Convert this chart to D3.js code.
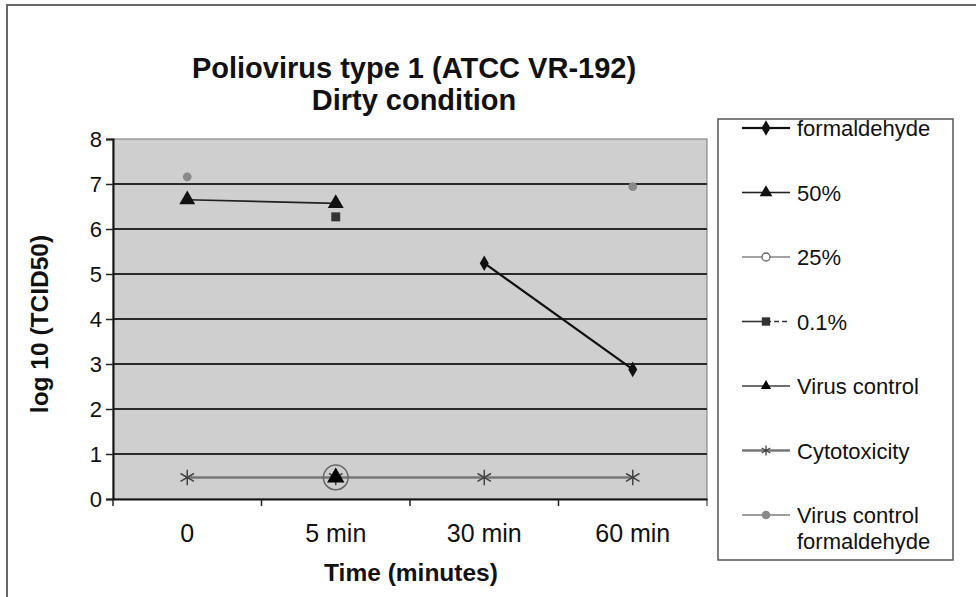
<!DOCTYPE html>
<html>
<head>
<meta charset="utf-8">
<script src="https://cdn.jsdelivr.net/npm/d3@7"></script>
<style>
  body { margin: 0; background: #fff; }
  svg { font-family: "Liberation Sans", Arial, sans-serif; }
</style>
</head>
<body>
<div id="chart"></div>
<script>
const width = 976;
const height = 597;
const margin = {top: 139, right: 269, bottom: 98, left: 113};

// data
const categories = ["0", "5 min", "30 min", "60 min"];
const yTicks = [0, 1, 2, 3, 4, 5, 6, 7, 8];
const formaldehyde = [null, null, 5.24, 2.88];
const pct50 = [6.65, 6.57, null, null];
const pct25 = [null, 0.48, null, null];
const pct01 = [null, 6.27, null, null];
const virusControl = [null, 0.48, null, null];
const cytotoxicity = [0.48, 0.48, 0.48, 0.48];
const virusControlForm = [7.16, null, null, 6.94];

const svg = d3.select("#chart").append("svg")
  .attr("width", width)
  .attr("height", height);

// outer frame (top + left only, rest is cut off in the scan)
svg.append("path")
  .attr("d", `M7,${height} L7,5 L${width},5`)
  .attr("fill", "none")
  .attr("stroke", "#666")
  .attr("stroke-width", 2);

const x = d3.scaleBand().domain(categories).range([margin.left, width - margin.right]);
const y = d3.scaleLinear().domain([0, 8]).range([height - margin.bottom, margin.top]);
const xc = c => x(c) + x.bandwidth() / 2;

// plot background
svg.append("rect")
  .attr("x", margin.left)
  .attr("y", margin.top)
  .attr("width", width - margin.right - margin.left)
  .attr("height", height - margin.bottom - margin.top)
  .attr("fill", "#cfcfcf")
  .attr("stroke", "#777")
  .attr("stroke-width", 1);

// gridlines
svg.append("g").selectAll("line")
  .data(yTicks.filter(t => t > 0 && t < 8))
  .join("line")
  .attr("x1", margin.left)
  .attr("x2", width - margin.right)
  .attr("y1", d => y(d))
  .attr("y2", d => y(d))
  .attr("stroke", "#2a2a2a")
  .attr("stroke-width", 1.8);

// axes
const yAxis = svg.append("g")
  .attr("transform", `translate(${margin.left},0)`)
  .call(d3.axisLeft(y).tickValues(yTicks).tickSize(7).tickPadding(4).tickFormat(d3.format("d")));
const xAxis = svg.append("g")
  .attr("transform", `translate(0,${height - margin.bottom})`)
  .call(d3.axisBottom(x).tickSize(0).tickPadding(25));
xAxis.selectAll(".tick").append("line")
  .attr("x1", -x.bandwidth() / 2).attr("x2", -x.bandwidth() / 2)
  .attr("y1", 0).attr("y2", 7).attr("stroke", "#222");
xAxis.append("line")
  .attr("x1", width - margin.right).attr("x2", width - margin.right)
  .attr("y1", 0).attr("y2", 7).attr("stroke", "#222");
[yAxis, xAxis].forEach(a => {
  a.select(".domain").attr("stroke", "#111").attr("stroke-width", 2);
  a.selectAll(".tick line").attr("stroke", "#222").attr("stroke-width", 1.5);
  a.selectAll("text").attr("fill", "#111").style("font-family", "'Liberation Sans', Arial, sans-serif");
});
yAxis.selectAll("text").style("font-size", "22px");
xAxis.selectAll("text").style("font-size", "25px");

// titles
const titleX = 414;
svg.append("text")
  .attr("x", titleX).attr("y", 78)
  .attr("text-anchor", "middle")
  .style("font-size", "29px").style("font-weight", "bold")
  .attr("fill", "#111")
  .text("Poliovirus type 1 (ATCC VR-192)");
svg.append("text")
  .attr("x", titleX).attr("y", 110)
  .attr("text-anchor", "middle")
  .style("font-size", "29px").style("font-weight", "bold")
  .attr("fill", "#111")
  .text("Dirty condition");
svg.append("text")
  .attr("x", 411)
  .attr("y", 581)
  .attr("text-anchor", "middle")
  .style("font-size", "24.5px").style("font-weight", "bold")
  .attr("fill", "#111")
  .text("Time (minutes)");
svg.append("text")
  .attr("transform", `translate(48,324) rotate(-90)`)
  .attr("text-anchor", "middle")
  .style("font-size", "24.5px").style("font-weight", "bold")
  .attr("fill", "#111")
  .text("log 10 (TCID50)");

// series definitions
const series = [
  {name: "formaldehyde", values: formaldehyde, color: "#111", width: 2.2, symbol: d3.symbolDiamond, size: 70, fill: "#111", dash: null},
  {name: "50%", values: pct50, color: "#222", width: 1.6, symbol: d3.symbolTriangle, size: 110, fill: "#111", dash: null},
  {name: "25%", values: pct25, color: "#666", width: 1.2, symbol: d3.symbolCircle, size: 480, fill: "none", dash: null, legendSize: 50},
  {name: "0.1%", values: pct01, color: "#333", width: 1.6, symbol: d3.symbolSquare, size: 80, fill: "#333", dash: "5 3"},
  {name: "Virus control", values: virusControl, color: "#111", width: 1.2, symbol: d3.symbolTriangle, size: 130, fill: "#000", dash: null, legendSize: 45},
  {name: "Cytotoxicity", values: cytotoxicity, color: "#777", width: 2.5, symbol: d3.symbolAsterisk, size: 170, fill: "none", dash: null, stroke: "#444"},
  {name: "Virus control formaldehyde", values: virusControlForm, color: "#888", width: 1.6, symbol: d3.symbolCircle, size: 60, fill: "#8a8a8a", dash: null}
];

// lines connect consecutive points only
const line = d3.line()
  .defined(d => d.v != null)
  .x(d => xc(d.c))
  .y(d => y(d.v));

const drawOrder = [5, 6, 0, 3, 1, 2, 4];
drawOrder.forEach(i => {
  const s = series[i];
  const pts = categories.map((c, j) => ({c, v: s.values[j]}));
  svg.append("path")
    .datum(pts)
    .attr("fill", "none")
    .attr("stroke", s.color)
    .attr("stroke-width", s.width)
    .attr("d", line);
  svg.append("g").selectAll("path")
    .data(pts.filter(d => d.v != null))
    .join("path")
    .attr("transform", d => `translate(${xc(d.c)},${y(d.v)})`)
    .attr("d", d3.symbol(s.symbol, s.size))
    .attr("fill", s.fill)
    .attr("stroke", s.stroke || (s.fill === "none" ? s.color : "none"))
    .attr("stroke-width", s.fill === "none" ? 1.5 : 0);
});

// legend
const lg = svg.append("g");
lg.append("rect")
  .attr("x", 718).attr("y", 119)
  .attr("width", 235).attr("height", 441)
  .attr("fill", "#fff")
  .attr("stroke", "#555")
  .attr("stroke-width", 1.5);

const legendY = d3.scalePoint().domain(series.map(s => s.name)).range([128, 515]);
series.forEach(s => {
  const ly = legendY(s.name);
  const g = lg.append("g").attr("transform", `translate(0,${ly})`);
  g.append("line")
    .attr("x1", 742).attr("x2", 766)
    .attr("stroke", s.color).attr("stroke-width", s.width);
  g.append("line")
    .attr("x1", 766).attr("x2", 790)
    .attr("stroke", s.color).attr("stroke-width", s.width)
    .attr("stroke-dasharray", s.dash);
  g.append("path")
    .attr("transform", "translate(766,0)")
    .attr("d", d3.symbol(s.symbol, s.legendSize || Math.min(s.size, 70)))
    .attr("fill", s.fill === "none" ? "#fff" : s.fill)
    .attr("stroke", s.stroke || (s.fill === "none" ? s.color : "none"))
    .attr("stroke-width", s.fill === "none" ? 1.3 : 0);
  const words = s.name === "Virus control formaldehyde" ? ["Virus control", "formaldehyde"] : [s.name];
  const t = g.append("text")
    .attr("x", 797).attr("y", 8)
    .attr("fill", "#111")
    .style("font-size", "22px");
  words.forEach((w, k) => t.append("tspan").attr("x", 797).attr("dy", k === 0 ? 0 : 26).text(w));
});
</script>
</body>
</html>
